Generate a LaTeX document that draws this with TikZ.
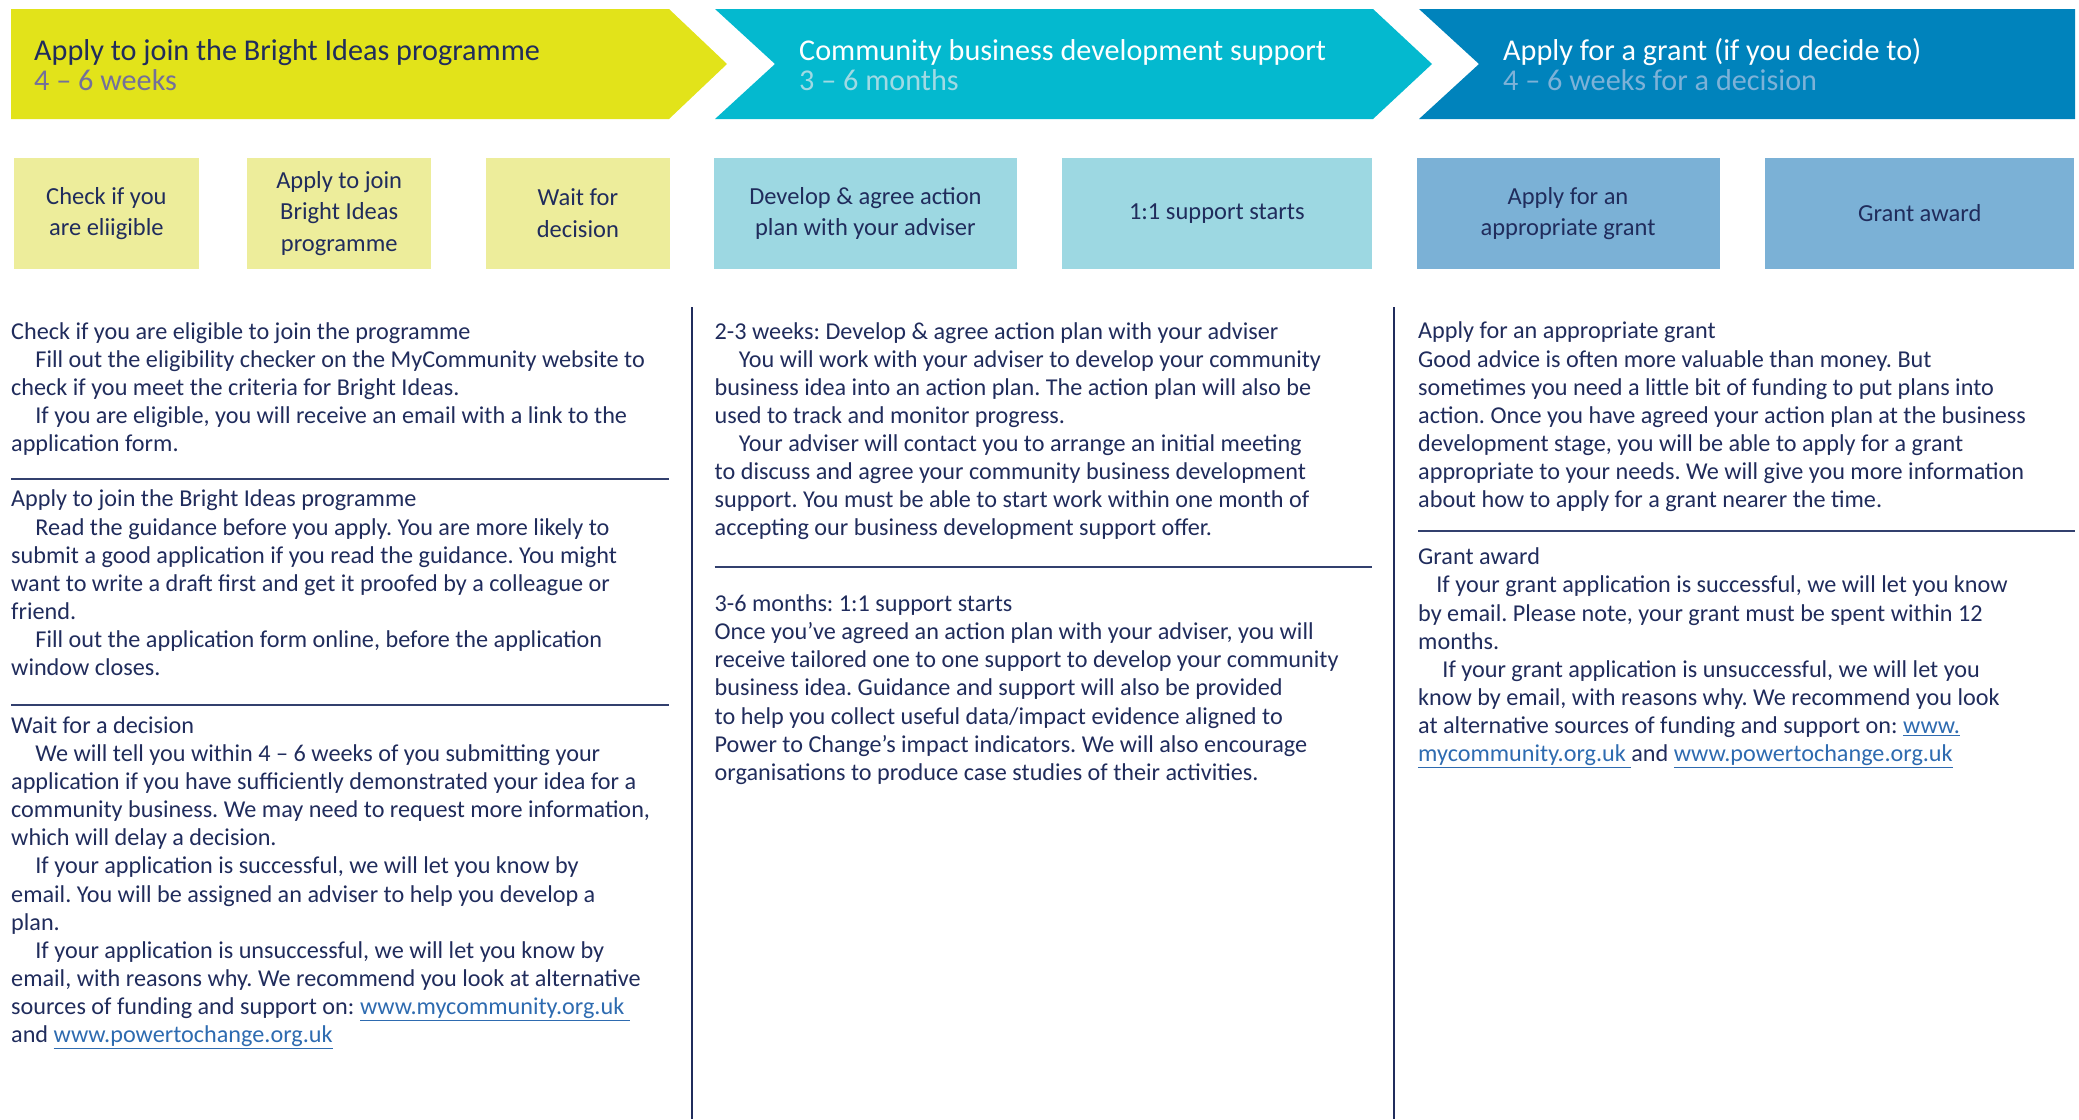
\documentclass[tikz,border=0pt]{standalone}
\usepackage{fontspec}
\setmainfont{Carlito}
\frenchspacing
\definecolor{ideasyellow}{RGB}{226,227,26}
\definecolor{ideaspale}{RGB}{237,237,155}
\definecolor{supportcyan}{RGB}{4,185,207}
\definecolor{supportpale}{RGB}{157,216,226}
\definecolor{grantblue}{RGB}{0,131,188}
\definecolor{grantpale}{RGB}{123,177,214}
\definecolor{textnavy}{RGB}{32,44,92}
\definecolor{rulenavy}{RGB}{50,64,110}
\definecolor{weekgrey}{RGB}{116,112,154}
\definecolor{monthcyan}{RGB}{160,218,228}
\definecolor{decideblue}{RGB}{125,178,216}
\definecolor{linkblue}{RGB}{46,107,176}
\newcommand{\bodyfont}{\fontsize{24.2}{28.1}\selectfont}
\newcommand{\cardfont}{\fontsize{24.5}{31.7}\selectfont}
\newcommand{\stagefont}{\fontsize{30.2}{30.7}\selectfont}
\newcommand{\paraindent}{\hspace*{1em}}
\newcommand{\weblink}[1]{{\color{linkblue}\underline{#1}}}
% multi-line nodes sit on the baseline of their last line
\tikzset{
  stage-title/.style={anchor=base west, inner sep=0pt, align=left, font=\stagefont},
  card/.style={rectangle, inner sep=0pt, minimum height=111pt, align=center,
    text=textnavy, font=\cardfont},
  blurb/.style={anchor=base west, inner sep=0pt, align=left, text=textnavy, font=\bodyfont},
  rule/.style={draw=rulenavy, line width=1.6pt},
  divider/.style={draw=textnavy, line width=1.8pt}
}

\begin{document}
\begin{tikzpicture}[x=1pt,y=-1pt]
  \useasboundingbox (0,0) rectangle (2079,1119);
  % Stage arrows
  \fill[ideasyellow] (11,9) -- (669,9) -- (727,64) -- (669,119) -- (11,119) -- cycle;
  \fill[supportcyan] (715,9) -- (1373,9) -- (1432,64) -- (1373,119) -- (715,119) -- (775,64) -- cycle;
  \fill[grantblue] (1419,9) -- (2075,9) -- (2075,119) -- (1419,119) -- (1479,64) -- cycle;
  \node[stage-title, text=textnavy] (ideas) at (34,90.7)
    {Apply to join the Bright Ideas programme\\\color{weekgrey}4 – 6 weeks};
  \node[stage-title, text=white] (support) at (799,90.7)
    {Community business development support\\\color{monthcyan}3 – 6 months};
  \node[stage-title, text=white] (grant) at (1503,90.7)
    {Apply for a grant (if you decide to)\\\color{decideblue}4 – 6 weeks for a decision};

  % Step cards
  \node[card, fill=ideaspale, minimum width=184.7pt] (check) at (106.4,213.5) {Check if you\\are eliigible};
  \node[card, fill=ideaspale, minimum width=184.4pt] (join) at (339.2,213.5) {Apply to join\\Bright Ideas\\programme};
  \node[card, fill=ideaspale, minimum width=184.3pt] (wait) at (577.9,213.5) {Wait for\\decision};
  \node[card, fill=supportpale, minimum width=303pt] (plan) at (865.4,213.5) {Develop \& agree action\\plan with your adviser};
  \node[card, fill=supportpale, minimum width=310pt] (oneone) at (1216.8,213.5) {1:1 support starts};
  \node[card, fill=grantpale, minimum width=303pt] (apply) at (1568,213.5) {Apply for an\\appropriate grant};
  \node[card, fill=grantpale, minimum width=309pt] (award) at (1919.7,213.5) {Grant award};

  % Column dividers
  \draw[divider] (692,307) -- (692,1119);
  \draw[divider] (1394,307) -- (1394,1119);

  % Column 1
  \node[blurb] (check-text) at (11,451.5) {Check if you are eligible to join the programme\\
    \paraindent Fill out the eligibility checker on the MyCommunity website to\\
    check if you meet the criteria for Bright Ideas.\\
    \paraindent If you are eligible, you will receive an email with a link to the\\
    application form.};
  \draw[rule] (11,479) -- (669,479);
  \node[blurb] (join-text) at (11,675.5) {Apply to join the Bright Ideas programme\\
    \paraindent Read the guidance before you apply. You are more likely to\\
    submit a good application if you read the guidance. You might\\
    want to write a draft first and get it proofed by a colleague or\\
    friend.\\
    \paraindent Fill out the application form online, before the application\\
    window closes.};
  \draw[rule] (11,705) -- (669,705);
  \node[blurb] (wait-text) at (11,1042.5) {Wait for a decision\\
    \paraindent We will tell you within 4 – 6 weeks of you submitting your\\
    application if you have sufficiently demonstrated your idea for a\\
    community business. We may need to request more information,\\
    which will delay a decision.\\
    \paraindent If your application is successful, we will let you know by\\
    email. You will be assigned an adviser to help you develop a\\
    plan.\\
    \paraindent If your application is unsuccessful, we will let you know by\\
    email, with reasons why. We recommend you look at alternative\\
    sources of funding and support on: \weblink{www.mycommunity.org.uk\ }\\
    and \weblink{www.powertochange.org.uk}};

  % Column 2
  \node[blurb] (plan-text) at (714.5,535.8) {2-3 weeks: Develop \& agree action plan with your adviser\\
    \paraindent You will work with your adviser to develop your community\\
    business idea into an action plan. The action plan will also be\\
    used to track and monitor progress.\\
    \paraindent Your adviser will contact you to arrange an initial meeting\\
    to discuss and agree your community business development\\
    support. You must be able to start work within one month of\\
    accepting our business development support offer.};
  \draw[rule] (714.5,566.7) -- (1372,566.7);
  \node[blurb] (oneone-text) at (714.5,780.2) {3-6 months: 1:1 support starts\\
    Once you’ve agreed an action plan with your adviser, you will\\
    receive tailored one to one support to develop your community\\
    business idea. Guidance and support will also be provided\\
    to help you collect useful data/impact evidence aligned to\\
    Power to Change’s impact indicators. We will also encourage\\
    organisations to produce case studies of their activities.};

  % Column 3
  \node[blurb] (apply-text) at (1418,507.5) {Apply for an appropriate grant\\
    Good advice is often more valuable than money. But\\
    sometimes you need a little bit of funding to put plans into\\
    action. Once you have agreed your action plan at the business\\
    development stage, you will be able to apply for a grant\\
    appropriate to your needs. We will give you more information\\
    about how to apply for a grant nearer the time.};
  \draw[rule] (1418,530.7) -- (2075,530.7);
  \node[blurb] (award-text) at (1418,761.5) {Grant award\\
    \hspace*{0.75em}If your grant application is successful, we will let you know\\
    by email. Please note, your grant must be spent within 12\\
    months.\\
    \paraindent If your grant application is unsuccessful, we will let you\\
    know by email, with reasons why. We recommend you look\\
    at alternative sources of funding and support on: \weblink{www.}\\
    \weblink{mycommunity.org.uk\ }and \weblink{www.powertochange.org.uk}};
\end{tikzpicture}
\end{document}
